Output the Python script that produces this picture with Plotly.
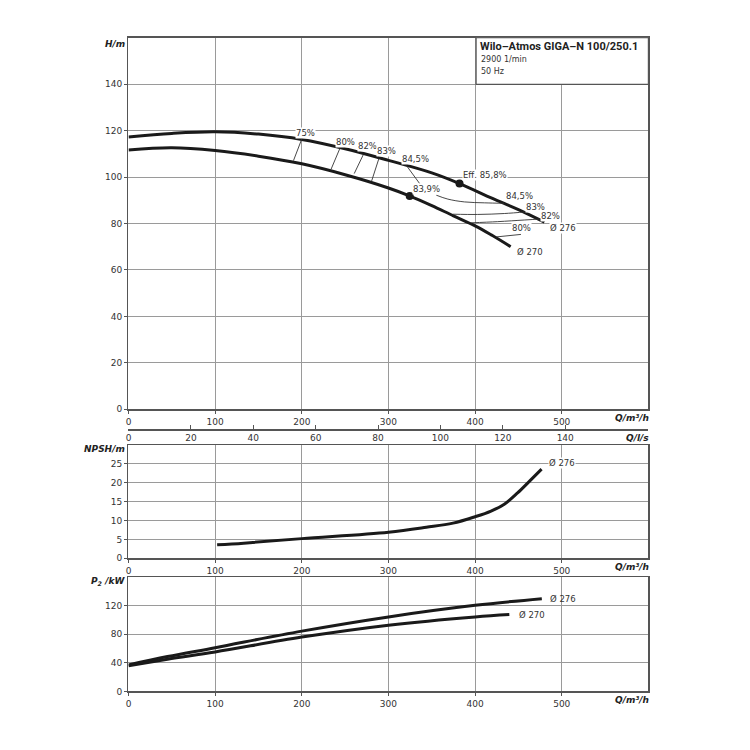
import plotly.graph_objects as go

# ---------------- data ----------------
# Head curves (Q in m3/h, H in m)
q276 = [0, 50, 100, 150, 200, 250, 300, 350, 382, 420, 450, 480]
h276 = [117.3, 118.8, 119.5, 118.5, 116.2, 112.2, 107.2, 101.8, 97.2, 90.8, 86.0, 80.6]
q270 = [0, 50, 100, 150, 200, 250, 300, 325, 350, 375, 400, 420, 441]
h270 = [111.7, 112.6, 111.4, 109.0, 105.7, 101.0, 95.3, 91.8, 87.7, 83.3, 79.0, 74.8, 70.0]

# Best efficiency points
bep_q = [382, 324.5]
bep_h = [97.2, 91.8]

# Iso-efficiency lines
eff75_q = [200, 190.4];  eff75_h = [116.4, 107.1]
eff80a_q = [244, 233.7]; eff80a_h = [112.4, 103.3]
eff82a_q = [270.9, 260.5]; eff82a_h = [109.6, 101.5]
eff83a_q = [288.9, 280.5]; eff83a_h = [107.9, 98.2]
eff845a_q = [320.7, 336]; eff845a_h = [105.0, 97.2]
eff845b_q = [355.2, 368.6, 387.7, 410.7, 433.7]; eff845b_h = [92.2, 90.5, 89.3, 88.9, 88.7]
eff83b_q = [374.3, 403, 433.7, 458.6]; eff83b_h = [84.0, 83.9, 84.3, 85.0]
eff82b_q = [395.4, 426, 456.7, 477.8]; eff82b_h = [80.3, 80.8, 81.5, 82.0]
eff80b_q = [424, 452.9]; eff80b_h = [74.2, 75.3]

# Efficiency labels (text, Q, H)
eff_labels = ["75%", "80%", "82%", "83%", "84,5%", "Eff. 85,8%", "83,9%", "84,5%", "83%", "82%", "80%", "Ø 276", "Ø 270"]
eff_lab_q = [203.8, 250.6, 275.9, 297.7, 331, 385, 343.7, 451, 469.4, 486.6, 453.6, 485, 447]
eff_lab_h = [119.0, 115.3, 113.3, 111.2, 107.6, 100.7, 94.7, 91.7, 87.2, 83.3, 77.9, 77.9, 67.6]

# NPSH curve
q_npsh = [102.3, 133, 200, 300, 343.7, 374.5, 400, 418.4, 433.7, 449, 462.3, 476.7]
npsh = [3.55, 4.0, 5.2, 6.9, 8.2, 9.3, 11.0, 12.5, 14.3, 17.3, 20.3, 23.6]

# Power curves
q_p276 = [0, 45, 100, 200, 300, 400, 477]
p276 = [37.1, 48.7, 61.2, 84.4, 104.3, 120.5, 129.8]
q_p270 = [0, 45, 100, 200, 300, 400, 439.5]
p270 = [35.7, 45.0, 55.2, 76.0, 92.7, 104.3, 107.5]

# Axis ticks
q_ticks = [0, 100, 200, 300, 400, 500]
ls_ticks = [0, 20, 40, 60, 80, 100, 120, 140]
h_ticks = [0, 20, 40, 60, 80, 100, 120, 140]
npsh_ticks = [0, 5, 10, 15, 20, 25]
p_ticks = [0, 40, 80, 120]

# ---------------- figure ----------------
W = 750
def px(x): return x / W
def py(y): return 1 - y / W

CURVE = dict(color="#1a1a1a", width=3, shape="spline")
THIN = dict(color="#333333", width=0.9, shape="spline")
FONT = "DejaVu Sans"
TXT = "#333333"

fig = go.Figure()
fig.add_trace(go.Scatter(x=q276, y=h276, mode="lines", line=CURVE, xaxis="x", yaxis="y"))
fig.add_trace(go.Scatter(x=q270, y=h270, mode="lines", line=CURVE, xaxis="x", yaxis="y"))
for qq, hh in [(eff75_q, eff75_h), (eff80a_q, eff80a_h), (eff82a_q, eff82a_h), (eff83a_q, eff83a_h),
               (eff845a_q, eff845a_h), (eff845b_q, eff845b_h), (eff83b_q, eff83b_h),
               (eff82b_q, eff82b_h), (eff80b_q, eff80b_h)]:
    fig.add_trace(go.Scatter(x=qq, y=hh, mode="lines", line=THIN, xaxis="x", yaxis="y"))
fig.add_trace(go.Scatter(x=bep_q, y=bep_h, mode="markers", marker=dict(color="#1a1a1a", size=8), xaxis="x", yaxis="y"))
# invisible trace for l/s axis
fig.add_trace(go.Scatter(x=[0, 160], y=[-10, -10], mode="lines", line=dict(width=0), xaxis="x2", yaxis="y", hoverinfo="skip"))

fig.add_trace(go.Scatter(x=q_npsh, y=npsh, mode="lines", line=CURVE, xaxis="x3", yaxis="y3"))
fig.add_trace(go.Scatter(x=q_p276, y=p276, mode="lines", line=CURVE, xaxis="x4", yaxis="y4"))
fig.add_trace(go.Scatter(x=q_p270, y=p270, mode="lines", line=CURVE, xaxis="x4", yaxis="y4"))

xdom = [px(126), px(648)]
common = dict(showgrid=True, gridcolor="#9a9a9a", gridwidth=1, showline=True, linecolor="#555555",
              linewidth=1.5, mirror=True, ticks="outside", ticklen=3, tickcolor="#555555",
              tickfont=dict(family=FONT, size=9, color=TXT), zeroline=False, fixedrange=True)

fig.update_layout(
    width=750, height=750, margin=dict(l=0, r=0, t=0, b=0),
    paper_bgcolor="white", plot_bgcolor="white", showlegend=False,
    xaxis=dict(domain=xdom, range=[0, 600], anchor="y", tickvals=q_ticks, **common),
    yaxis=dict(domain=[py(412), py(38)], range=[0, 160], anchor="x", tickvals=h_ticks, **common),
    xaxis2=dict(overlaying="x", anchor="free", position=py(432), side="bottom", range=[0, 600 / 3.6],
                tickvals=ls_ticks, showgrid=False, showline=True, linecolor="#555555", linewidth=1.5,
                ticks="inside", ticklen=4, tickcolor="#555555", zeroline=False, fixedrange=True,
                tickfont=dict(family=FONT, size=9, color=TXT)),
    xaxis3=dict(domain=xdom, range=[0, 600], anchor="y3", tickvals=q_ticks, **common),
    yaxis3=dict(domain=[py(562), py(448)], range=[0, 30], anchor="x3", tickvals=npsh_ticks, **common),
    xaxis4=dict(domain=xdom, range=[0, 600], anchor="y4", tickvals=q_ticks, **common),
    yaxis4=dict(domain=[py(696), py(581)], range=[0, 160], anchor="x4", tickvals=p_ticks, **common),
)

# title box
fig.add_shape(type="rect", xref="paper", yref="paper", x0=px(475), x1=px(648), y0=py(85), y1=py(38),
              fillcolor="white", line=dict(color="#555555", width=1.2), layer="above")

ann = []
def A(text, x, y, xa="left", ya="middle", size=9, ref="paper", xr=None, yr=None, bg=None, color=TXT, family=FONT):
    d = dict(text=text, x=x, y=y, xanchor=xa, yanchor=ya, showarrow=False,
             font=dict(family=family, size=size, color=color))
    if ref == "paper":
        d.update(xref="paper", yref="paper")
    else:
        d.update(xref=xr, yref=yr)
    if bg:
        d.update(bgcolor=bg, borderpad=0)
    ann.append(d)

A("<b>Wilo–Atmos GIGA–N 100/250.1</b>", px(477), py(47), size=11, color="#222222", family="Roboto")
A("2900 1/min", px(478), py(60), size=8)
A("50 Hz", px(478), py(72), size=8)

A("<b><i>H/m</i></b>", px(124), py(44), xa="right", size=9, color="#222222")
A("<b><i>Q/m³/h</i></b>", px(651), py(421), xa="right", size=9, color="#222222")
A("<b><i>Q/l/s</i></b>", px(651), py(441), xa="right", size=9, color="#222222")
A("<b><i>NPSH/m</i></b>", px(124), py(452), xa="right", size=9, color="#222222")
A("<b><i>Q/m³/h</i></b>", px(651), py(571), xa="right", size=9, color="#222222")
A("<b><i>P<sub>2</sub> /kW</i></b>", px(124), py(585), xa="right", size=9, color="#222222")
A("<b><i>Q/m³/h</i></b>", px(651), py(705), xa="right", size=9, color="#222222")

for t, qv, hv in zip(eff_labels, eff_lab_q, eff_lab_h):
    A(t, qv, hv, xa="center" if not t.startswith(("Eff", "Ø")) else "left", ref="data", xr="x", yr="y", bg="white", size=8.5)

A("Ø 276", 484, 25.3, ref="data", xr="x3", yr="y3", bg="white", size=8.5)
A("Ø 276", 484, 130, ref="data", xr="x4", yr="y4", size=8.5)
A("Ø 270", 448, 107.5, ref="data", xr="x4", yr="y4", size=8.5)

fig.update_layout(annotations=ann)
fig.write_html("out.html", config={"displayModeBar": False, "staticPlot": True},
               post_script="document.body.style.margin='0';document.body.style.padding='0';")
